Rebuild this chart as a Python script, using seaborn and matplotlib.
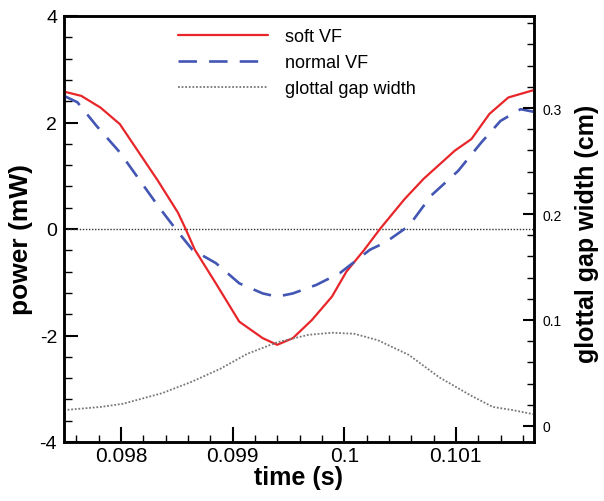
import numpy as np
import pandas as pd
import matplotlib
matplotlib.use("Agg")
import matplotlib.pyplot as plt
from matplotlib.ticker import FixedLocator, MultipleLocator
import seaborn as sns

# ---- data ----
soft_t = [0.09749, 0.097645, 0.097817, 0.09799, 0.09816, 0.09833, 0.09851, 0.09858,
          0.098662, 0.09885, 0.09906, 0.09927, 0.09940, 0.09954, 0.09971, 0.09989,
          0.10002, 0.10018, 0.10032, 0.10054, 0.10071, 0.10099, 0.10114, 0.10130,
          0.10147, 0.10170]
soft_p = [2.58, 2.50, 2.28, 1.97, 1.44, 0.91, 0.31, 0.0,
          -0.39, -1.02, -1.74, -2.05, -2.175, -2.05, -1.71, -1.27,
          -0.80, -0.39, 0.0, 0.56, 0.94, 1.47, 1.69, 2.16,
          2.47, 2.61]

normal_t = [0.09749, 0.09761, 0.09778, 0.09799, 0.09816, 0.09833, 0.09849, 0.09864,
            0.09885, 0.09906, 0.09927, 0.09940, 0.09954, 0.09975, 0.09996, 0.10023,
            0.10037, 0.10058, 0.10078, 0.10102, 0.10123, 0.10140, 0.10158, 0.10170]
normal_p = [2.50, 2.38, 1.94, 1.44, 0.94, 0.44, 0.0, -0.39,
            -0.64, -1.02, -1.21, -1.27, -1.21, -1.05, -0.83, -0.39,
            -0.25, 0.06, 0.63, 1.09, 1.63, 2.03, 2.25, 2.20]

gap_t = [0.09749, 0.09782, 0.09802, 0.09837, 0.09864, 0.09889, 0.09913, 0.09940,
         0.09968, 0.09989, 0.10009, 0.10030, 0.10058, 0.10085, 0.10113, 0.10133,
         0.10151, 0.10170]
gap_w = [0.015, 0.018, 0.021, 0.031, 0.042, 0.054, 0.068, 0.079,
         0.086, 0.088, 0.087, 0.081, 0.067, 0.046, 0.029, 0.018,
         0.015, 0.011]

x_ticks = [0.098, 0.099, 0.100, 0.101]
x_tick_labels = ["0.098", "0.099", "0.1", "0.101"]
y_ticks = [-4, -2, 0, 2, 4]
y2_ticks = [0.0, 0.1, 0.2, 0.3]
y2_tick_labels = ["0", "0.1", "0.2", "0.3"]

# ---- style ----
sns.set_style("ticks")
plt.rcParams["font.family"] = ["Liberation Sans", "DejaVu Sans"]
plt.rcParams["xtick.direction"] = "in"
plt.rcParams["ytick.direction"] = "in"
plt.rcParams["text.color"] = "black"
plt.rcParams["axes.labelcolor"] = "black"
plt.rcParams["xtick.color"] = "black"
plt.rcParams["ytick.color"] = "black"
plt.rcParams["xtick.labelcolor"] = "black"
plt.rcParams["ytick.labelcolor"] = "black"

fig = plt.figure(figsize=(6.04, 5.02), dpi=100)
ax = fig.add_axes([64 / 604, 1 - 443 / 502, 470 / 604, 426 / 502])
ax2 = ax.twinx()

red = "#e8262a"
blue = "#4356b4"
gray = "#777777"

df_soft = pd.DataFrame({"t": soft_t, "p": soft_p})
df_norm = pd.DataFrame({"t": normal_t, "p": normal_p})
df_gap = pd.DataFrame({"t": gap_t, "w": gap_w})

ax.axhline(0, color="#333333", lw=1.0, ls=(0, (1, 1.2)), zorder=1)
sns.lineplot(data=df_soft, x="t", y="p", ax=ax, color=red, lw=1.6,
             label="soft VF", sort=False, estimator=None, zorder=3)
sns.lineplot(data=df_norm, x="t", y="p", ax=ax, color=blue, lw=1.9,
             ls=(0, (7, 4.6)), label="normal VF", sort=False, estimator=None, zorder=3)
sns.lineplot(data=df_gap, x="t", y="w", ax=ax2, color=gray, lw=1.3,
             ls=(0, (1, 1)), label="glottal gap width", sort=False, estimator=None, zorder=2)

ax.set_xlim(0.09749, 0.10170)
ax.set_ylim(-4, 4)
ax2.set_ylim(-0.0151, 0.3868)

ax.xaxis.set_major_locator(FixedLocator(x_ticks))
ax.set_xticklabels(x_tick_labels)
ax.xaxis.set_minor_locator(MultipleLocator(0.0002))
ax.yaxis.set_major_locator(FixedLocator(y_ticks))
ax.set_yticklabels([str(v) for v in y_ticks])
ax.yaxis.set_minor_locator(MultipleLocator(0.4))
ax2.yaxis.set_major_locator(FixedLocator(y2_ticks))
ax2.set_yticklabels(y2_tick_labels)
ax2.yaxis.set_minor_locator(MultipleLocator(0.02))

ax.tick_params(axis="x", which="major", length=11, width=1.5, labelsize=15, pad=3,
               top=False)
ax.tick_params(axis="x", which="minor", length=5, width=1.0, top=False)
ax.tick_params(axis="y", which="major", length=10, width=1.5, labelsize=14, pad=5)
ax.tick_params(axis="y", which="minor", length=6, width=1.0)
ax2.tick_params(axis="y", which="major", length=8, width=1.5, labelsize=10, pad=6)
ax2.tick_params(axis="y", which="minor", length=5, width=1.0)

for a in (ax, ax2):
    for s in a.spines.values():
        s.set_linewidth(1.8)
        s.set_color("black")

ax.set_xlabel("time (s)", fontsize=18, fontweight="bold", labelpad=0, color="black")
ax.set_ylabel("power (mW)", fontsize=19, fontweight="bold", color="black")
ax.yaxis.set_label_coords(-0.066, 0.477)
ax2.set_ylabel("glottal gap width (cm)", fontsize=18, fontweight="bold", color="black")
ax2.yaxis.set_label_coords(1.087, 0.49)

# combined legend
h1, l1 = ax.get_legend_handles_labels()
h2, l2 = ax2.get_legend_handles_labels()
if ax2.get_legend() is not None:
    ax2.get_legend().remove()
leg = ax.legend(h1 + h2, l1 + l2, loc="upper left", bbox_to_anchor=(0.243, 0.972),
                frameon=False, fontsize=13, handlelength=5.0, handletextpad=0.9,
                borderaxespad=0, borderpad=0, labelspacing=0.5)
for t in leg.get_texts():
    t.set_color("black")

fig.savefig("out.png", dpi=100)
